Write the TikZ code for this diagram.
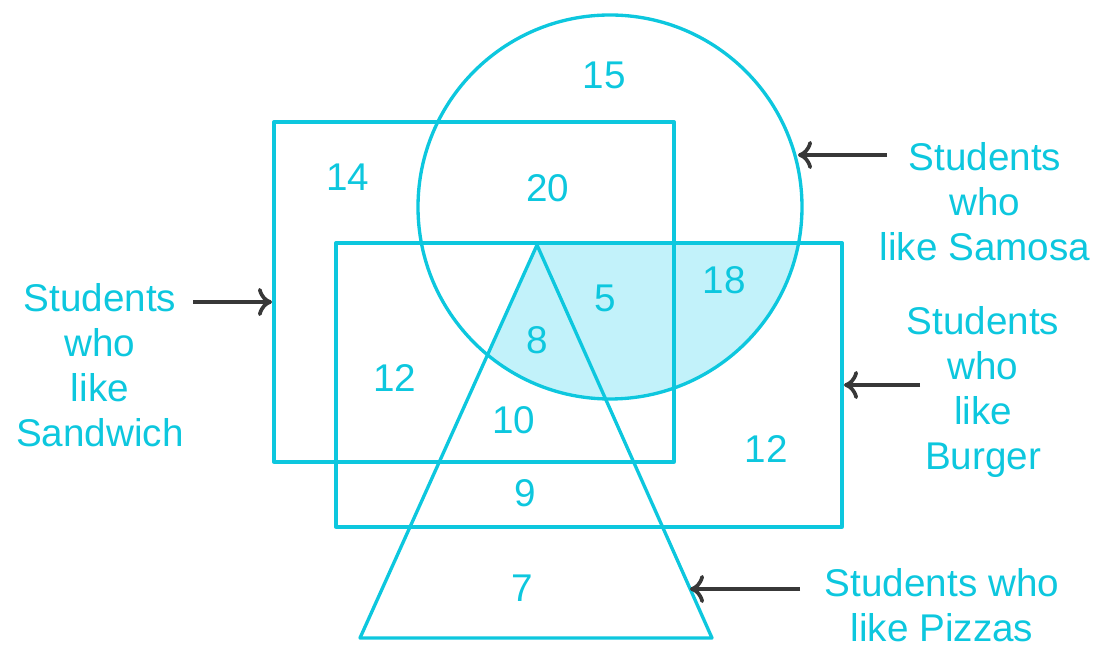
\documentclass[tikz,border=0pt]{standalone}
\usepackage{fontspec}
\setmainfont{Liberation Sans}
\usetikzlibrary{arrows.meta,calc}
\usepackage{tkz-euclide}
\definecolor{LineClr}{rgb}{0.05,0.78,0.87}
\definecolor{ShadeClr}{rgb}{0.76,0.95,0.98}
\definecolor{PointerClr}{rgb}{0.22,0.22,0.22}

\begin{document}
\begin{tikzpicture}[x=.02cm,y=.02cm,
  set/.style={line width=1.9pt,color=LineClr},
  count/.style={text=LineClr,font=\fontsize{22}{25.6}\selectfont},
  caption/.style={text=LineClr,align=center,font=\fontsize{22}{25.6}\selectfont},
  pointer/.style={line width=2.1pt,color=PointerClr,-{To[length=8pt,width=16pt]}}]
\useasboundingbox (0,0) rectangle (1099,652);

\tkzDefPoints{610/445/O,274/190/S1,674/190/S2,674/530/S3,274/530/S4}
\tkzDefPoints{336/125/B1,842/125/B2,842/409/B3,336/409/B4}
\tkzDefPoints{537/407/P1,360/14/P2,712/14/P3}

% shaded part : samosa and burger, right of the left side of the pizza
\begin{scope}
\clip (O) circle (192);
\clip (B1) rectangle (B3);
\clip (P2) -- ($(P2)!1.1!(P1)$) -- (900,500) -- (900,14) -- cycle;
\fill[ShadeClr] (B1) rectangle (B3);
\end{scope}

\draw[set] (O) circle (192);
\tkzDrawPolygon[set](S1,S2,S3,S4)
\tkzDrawPolygon[set](B1,B2,B3,B4)
\tkzDrawPolygon[set](P1,P2,P3)

\node[count] (n15) at (604,577) {15};
\node[count] (n14) at (348,475) {14};
\node[count] (n20) at (548,464) {20};
\node[count] (n18) at (724,372) {18};
\node[count] (n5) at (605,354) {5};
\node[count] (n8) at (537,312) {8};
\node[count] (n12a) at (395,274) {12};
\node[count] (n10) at (514,232) {10};
\node[count] (n12b) at (766,203) {12};
\node[count] (n9) at (525,159) {9};
\node[count] (n7) at (522,64) {7};

\node[caption] (samosa) at (985,450) {Students\\who\\like Samosa};
\node[caption] (sandwich) at (100,287) {Students\\who\\like\\Sandwich};
\node[caption] (burger) at (983,260) {Students\\who\\like\\Burger};
\node[caption] (pizza) at (942,47) {Students who\\like Pizzas};

\coordinate (samosaTail) at (887,497);
\coordinate (samosaTip) at (798,497);
\coordinate (sandwichTail) at (193,350);
\coordinate (sandwichTip) at (272,350);
\coordinate (burgerTail) at (920,267);
\coordinate (burgerTip) at (844,267);
\coordinate (pizzaTail) at (800,63);
\coordinate (pizzaTip) at (690,63);

\draw[pointer] (samosaTail) -- (samosaTip);
\draw[pointer] (sandwichTail) -- (sandwichTip);
\draw[pointer] (burgerTail) -- (burgerTip);
\draw[pointer] (pizzaTail) -- (pizzaTip);

\end{tikzpicture}
\end{document}
